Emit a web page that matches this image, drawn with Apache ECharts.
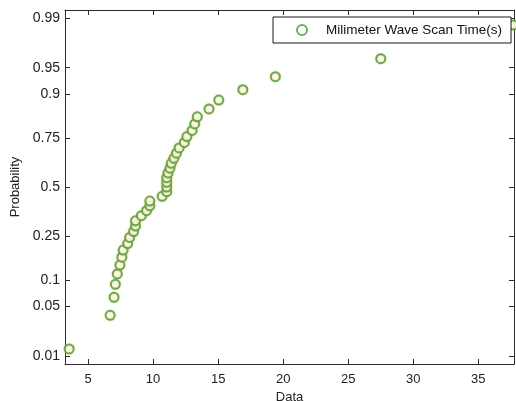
<!DOCTYPE html>
<html>
<head>
<meta charset="utf-8">
<style>
  html, body { margin: 0; padding: 0; background: #fff; }
  #chart { width: 516px; height: 401px; }
</style>
<script src="https://cdn.jsdelivr.net/npm/echarts@6/dist/echarts.min.js"></script>
</head>
<body>
<div id="chart"></div>
<script>
// Sorted millimeter wave scan times (s)
const scanTimes = [
  3.55, 6.7, 7.0, 7.1, 7.25, 7.45, 7.6, 7.7, 8.05, 8.2,
  8.5, 8.65, 8.65, 9.1, 9.5, 9.75, 9.75, 10.7, 11.05, 11.05,
  11.05, 11.05, 11.15, 11.3, 11.4, 11.6, 11.8, 12.0, 12.4, 12.6,
  13.0, 13.2, 13.4, 14.3, 15.05, 16.9, 19.4, 27.5, 37.7
];
const probTicks = [0.01, 0.05, 0.1, 0.25, 0.5, 0.75, 0.9, 0.95, 0.99];
const probLabels = ['0.01', '0.05', '0.1', '0.25', '0.5', '0.75', '0.9', '0.95', '0.99'];
const dataTicks = [5, 10, 15, 20, 25, 30, 35];
const seriesName = 'Milimeter Wave Scan Time(s)';

// Inverse standard normal CDF (Acklam's rational approximation)
function probit(p) {
  const a = [-3.969683028665376e+01, 2.209460984245205e+02, -2.759285104469687e+02,
             1.383577518672690e+02, -3.066479806614716e+01, 2.506628277459239e+00];
  const b = [-5.447609879822406e+01, 1.615858368580409e+02, -1.556989798598866e+02,
             6.680131188771972e+01, -1.328068155288572e+01];
  const c = [-7.784894002430293e-03, -3.223964580411365e-01, -2.400758277161838e+00,
             -2.549732539343734e+00, 4.374664141464968e+00, 2.938163982698783e+00];
  const d = [7.784695709041462e-03, 3.224671290700398e-01, 2.445134137142996e+00,
             3.754408661907416e+00];
  const pl = 0.02425, ph = 1 - pl;
  let q, r;
  if (p < pl) {
    q = Math.sqrt(-2 * Math.log(p));
    return (((((c[0]*q+c[1])*q+c[2])*q+c[3])*q+c[4])*q+c[5]) /
           ((((d[0]*q+d[1])*q+d[2])*q+d[3])*q+1);
  }
  if (p <= ph) {
    q = p - 0.5; r = q * q;
    return (((((a[0]*r+a[1])*r+a[2])*r+a[3])*r+a[4])*r+a[5])*q /
           (((((b[0]*r+b[1])*r+b[2])*r+b[3])*r+b[4])*r+1);
  }
  q = Math.sqrt(-2 * Math.log(1 - p));
  return -(((((c[0]*q+c[1])*q+c[2])*q+c[3])*q+c[4])*q+c[5]) /
          ((((d[0]*q+d[1])*q+d[2])*q+d[3])*q+1);
}

// Normal probability plotting positions: (i - 0.5) / n
const n = scanTimes.length;
const points = scanTimes.map((v, i) => [v, probit((i + 0.5) / n)]);
const probTickZ = probTicks.map(probit);

function probLabel(z) {
  let best = 0;
  probTickZ.forEach((t, i) => { if (Math.abs(t - z) < Math.abs(probTickZ[best] - z)) best = i; });
  return probLabels[best];
}

const FONT = '"Liberation Sans", Arial, sans-serif';
const axisColor = '#2b2b2b';
const xMin = 3.23, xMax = 37.74, zLim = 2.44;

const xBase = {
  type: 'value', min: xMin, max: xMax,
  axisLine: { show: true, onZero: false, lineStyle: { color: axisColor, width: 1 } },
  axisTick: { show: true, inside: true, length: 5, customValues: dataTicks, lineStyle: { color: axisColor } },
  splitLine: { show: false }
};
const yBase = {
  type: 'value', min: -zLim, max: zLim,
  axisLine: { show: true, onZero: false, lineStyle: { color: axisColor, width: 1 } },
  axisTick: { show: true, inside: true, length: 5, customValues: probTickZ, lineStyle: { color: axisColor } },
  splitLine: { show: false }
};

const chart = echarts.init(document.getElementById('chart'), null, { renderer: 'canvas' });
chart.setOption({
  animation: false,
  backgroundColor: '#ffffff',
  grid: { left: 65, right: 2, top: 10, bottom: 37, containLabel: false, outerBoundsMode: 'none' },
  xAxis: [
    Object.assign({}, xBase, {
      position: 'bottom',
      name: 'Data', nameLocation: 'middle', nameGap: 24,
      nameTextStyle: { fontFamily: FONT, fontSize: 13, color: '#222' },
      axisLabel: { customValues: dataTicks, margin: 9, fontFamily: FONT, fontSize: 13, color: '#222' }
    }),
    Object.assign({}, xBase, { position: 'top', axisLabel: { show: false } })
  ],
  yAxis: [
    Object.assign({}, yBase, {
      position: 'left',
      name: 'Probability', nameLocation: 'middle', nameGap: 41, nameRotate: 90,
      nameTextStyle: { fontFamily: FONT, fontSize: 13, color: '#222' },
      axisLabel: { customValues: probTickZ, margin: 5, fontFamily: FONT, fontSize: 14, color: '#222',
                   formatter: (v) => probLabel(v) }
    }),
    Object.assign({}, yBase, { position: 'right', axisLabel: { show: false } })
  ],
  legend: {
    data: [{ name: seriesName, icon: 'emptyCircle' }],
    left: 273, top: 17,
    padding: [6, 9, 6, 23],
    itemWidth: 10, itemHeight: 10,
    borderColor: '#1a1a1a', borderWidth: 1,
    backgroundColor: '#ffffff',
    textStyle: { fontFamily: FONT, fontSize: 13.5, color: '#111', padding: [0, 0, 0, 14] }
  },
  series: [{
    name: seriesName,
    type: 'scatter',
    xAxisIndex: 0, yAxisIndex: 0,
    symbol: 'emptyCircle',
    symbolSize: 9,
    clip: false,
    itemStyle: { color: '#4c9648', borderColor: '#4c9648', borderWidth: 1,
                 shadowColor: 'rgba(220,205,60,0.7)', shadowBlur: 2 },
    data: points
  }]
});
</script>
</body>
</html>
